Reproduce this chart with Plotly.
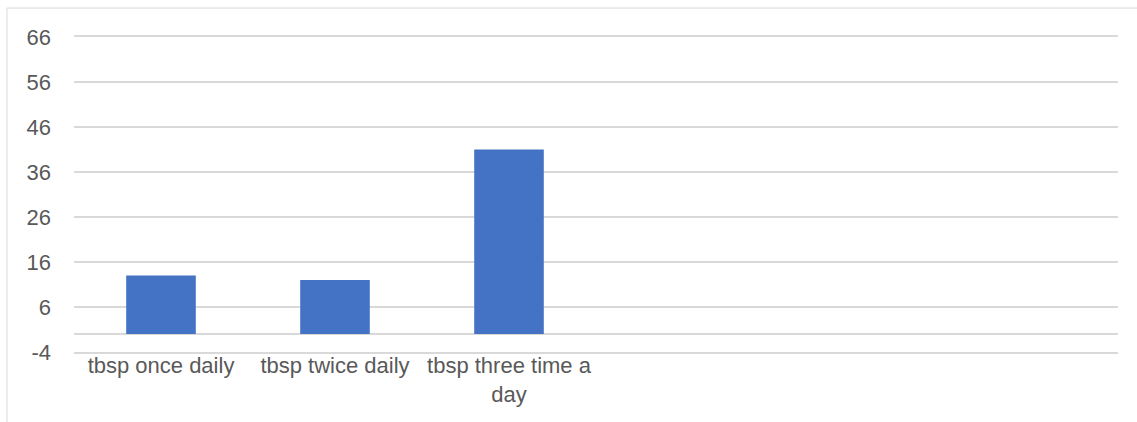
import plotly.graph_objects as go

# Dosage frequency categories and their counts
categories = ["tbsp once daily", "tbsp twice daily", "tbsp three time a<br>day"]
counts = [13, 12, 41]

# Value axis ticks
y_ticks = [-4, 6, 16, 26, 36, 46, 56, 66]
y_tick_labels = [str(v) for v in y_ticks]

BAR_COLOR = "#4472C4"
GRID_COLOR = "#D9D9D9"
TEXT_COLOR = "#595959"
FONT = "Liberation Sans"
FONT_SIZE = 22

fig = go.Figure(
    go.Bar(
        x=categories,
        y=counts,
        marker=dict(color=BAR_COLOR, line=dict(width=0)),
        hoverinfo="x+y",
    )
)

fig.update_layout(
    width=1137,
    height=422,
    margin=dict(l=74, r=19, t=37, b=70),
    paper_bgcolor="white",
    plot_bgcolor="white",
    bargap=0.6,
    showlegend=False,
    font=dict(family=FONT, size=FONT_SIZE, color=TEXT_COLOR),
    shapes=[
        # chart-area border
        dict(
            type="rect",
            xref="paper",
            yref="paper",
            x0=-0.0642,
            x1=1.03,
            y0=-0.26,
            y1=1.092,
            line=dict(color=GRID_COLOR, width=1),
            fillcolor="rgba(0,0,0,0)",
            layer="below",
        )
    ],
)

# top and bottom edge lines act as the outermost gridlines
fig.update_xaxes(
    type="category",
    range=[-0.5, 5.5],
    automargin=False,
    showgrid=False,
    showline=True,
    mirror=True,
    linecolor=GRID_COLOR,
    linewidth=1.5,
    zeroline=False,
    ticks="",
    ticklabelstandoff=-7,
    tickfont=dict(family=FONT, size=FONT_SIZE, color=TEXT_COLOR),
)

fig.update_yaxes(
    range=[y_ticks[0], y_ticks[-1]],
    automargin=False,
    tickmode="array",
    tickvals=y_ticks,
    ticktext=y_tick_labels,
    showgrid=True,
    gridcolor=GRID_COLOR,
    gridwidth=1.5,
    zeroline=True,
    zerolinecolor=GRID_COLOR,
    zerolinewidth=1.5,
    showline=False,
    ticks="",
    ticklabelstandoff=22,
    tickfont=dict(family=FONT, size=FONT_SIZE, color=TEXT_COLOR),
)

fig.write_html("out.html")
